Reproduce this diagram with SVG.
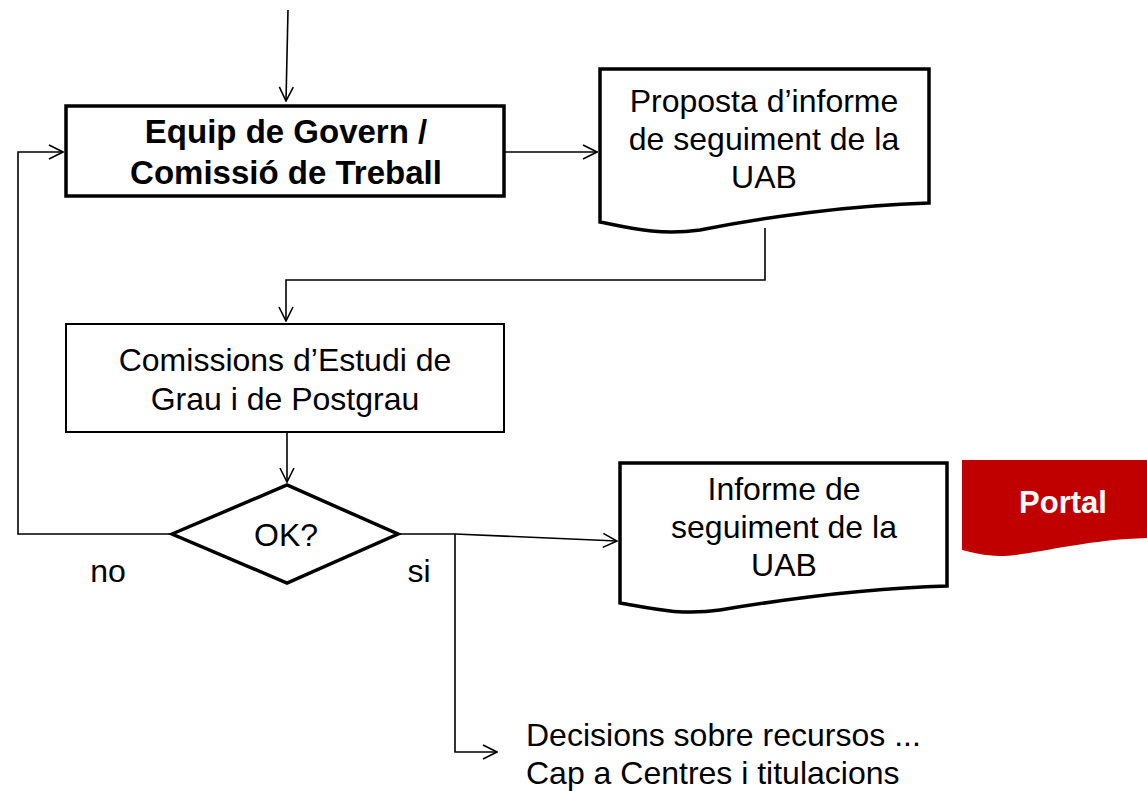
<svg xmlns="http://www.w3.org/2000/svg" width="1147" height="791" viewBox="0 0 1147 791">
<defs>
<marker id="arr" markerWidth="16" markerHeight="16" viewBox="0 0 16 16" refX="15" refY="8" orient="auto" markerUnits="userSpaceOnUse">
<path d="M1,1 L15,8 L1,15" fill="none" stroke="#000" stroke-width="1.6"/>
</marker>
</defs>
<style>
.t{font-family:"Liberation Sans",Arial,sans-serif;font-size:32px;fill:#000;text-anchor:middle}
.b{font-weight:bold;font-size:33px}
.c{fill:none;stroke:#000;stroke-width:1.6}
.shape{fill:#fff;stroke:#000;stroke-width:3.5}
</style>
<rect width="1147" height="791" fill="#fff"/>
<g id="connectors">
<path class="c" d="M288,10 L286,101" marker-end="url(#arr)"/>
<path class="c" d="M504,152 L597,152" marker-end="url(#arr)"/>
<path class="c" d="M765,228 L765,280 L286,280 L286,321" marker-end="url(#arr)"/>
<path class="c" d="M287,432 L287,482" marker-end="url(#arr)"/>
<path class="c" d="M172,534 L18,534 L18,152 L63,152" marker-end="url(#arr)"/>
<path class="c" d="M398,534 L455,534 L617,541" marker-end="url(#arr)"/>
<path class="c" d="M455,534 L455,752 L497,752" marker-end="url(#arr)"/>
</g>
<g id="equip">
<rect class="shape" x="66" y="106" width="438" height="90"/>
<text class="t b" x="286" y="143">Equip de Govern /</text>
<text class="t b" x="286" y="184">Comissió de Treball</text>
</g>
<g id="proposta">
<path class="shape" d="M600,69 L929,69 L929,203 C850,205 760,218 700,230 C660,236 630,228 600,222 Z"/>
<text class="t" x="764" y="112">Proposta d’informe</text>
<text class="t" x="764" y="150">de seguiment de la</text>
<text class="t" x="764" y="188">UAB</text>
</g>
<g id="comissions">
<rect x="66" y="324" width="438" height="108" fill="#fff" stroke="#000" stroke-width="2"/>
<text class="t" x="285" y="371">Comissions d’Estudi de</text>
<text class="t" x="285" y="410">Grau i de Postgrau</text>
</g>
<g id="ok">
<path class="shape" d="M172,534 L287,485 L398,534 L287,583 Z"/>
<text class="t" x="286" y="546">OK?</text>
</g>
<g id="informe">
<path class="shape" d="M620,463 L947,463 L947,586 C870,588 780,600 720,610 C680,616 650,608 620,603 Z"/>
<text class="t" x="784" y="500">Informe de</text>
<text class="t" x="784" y="538">seguiment de la</text>
<text class="t" x="784" y="576">UAB</text>
</g>
<g id="portal">
<path d="M962,460 L1147,460 L1147,538 C1080,540 1030,556 1000,556 C985,556 970,552 962,550 Z" fill="#C00000"/>
<text class="t b" x="1063" y="513" style="fill:#fff;font-size:31px">Portal</text>
</g>
<g id="labels">
<text class="t" x="108" y="582">no</text>
<text class="t" x="419" y="582">si</text>
<text class="t" x="526" y="746" style="text-anchor:start">Decisions sobre recursos ...</text>
<text class="t" x="526" y="784" style="text-anchor:start">Cap a Centres i titulacions</text>
</g>
</svg>
